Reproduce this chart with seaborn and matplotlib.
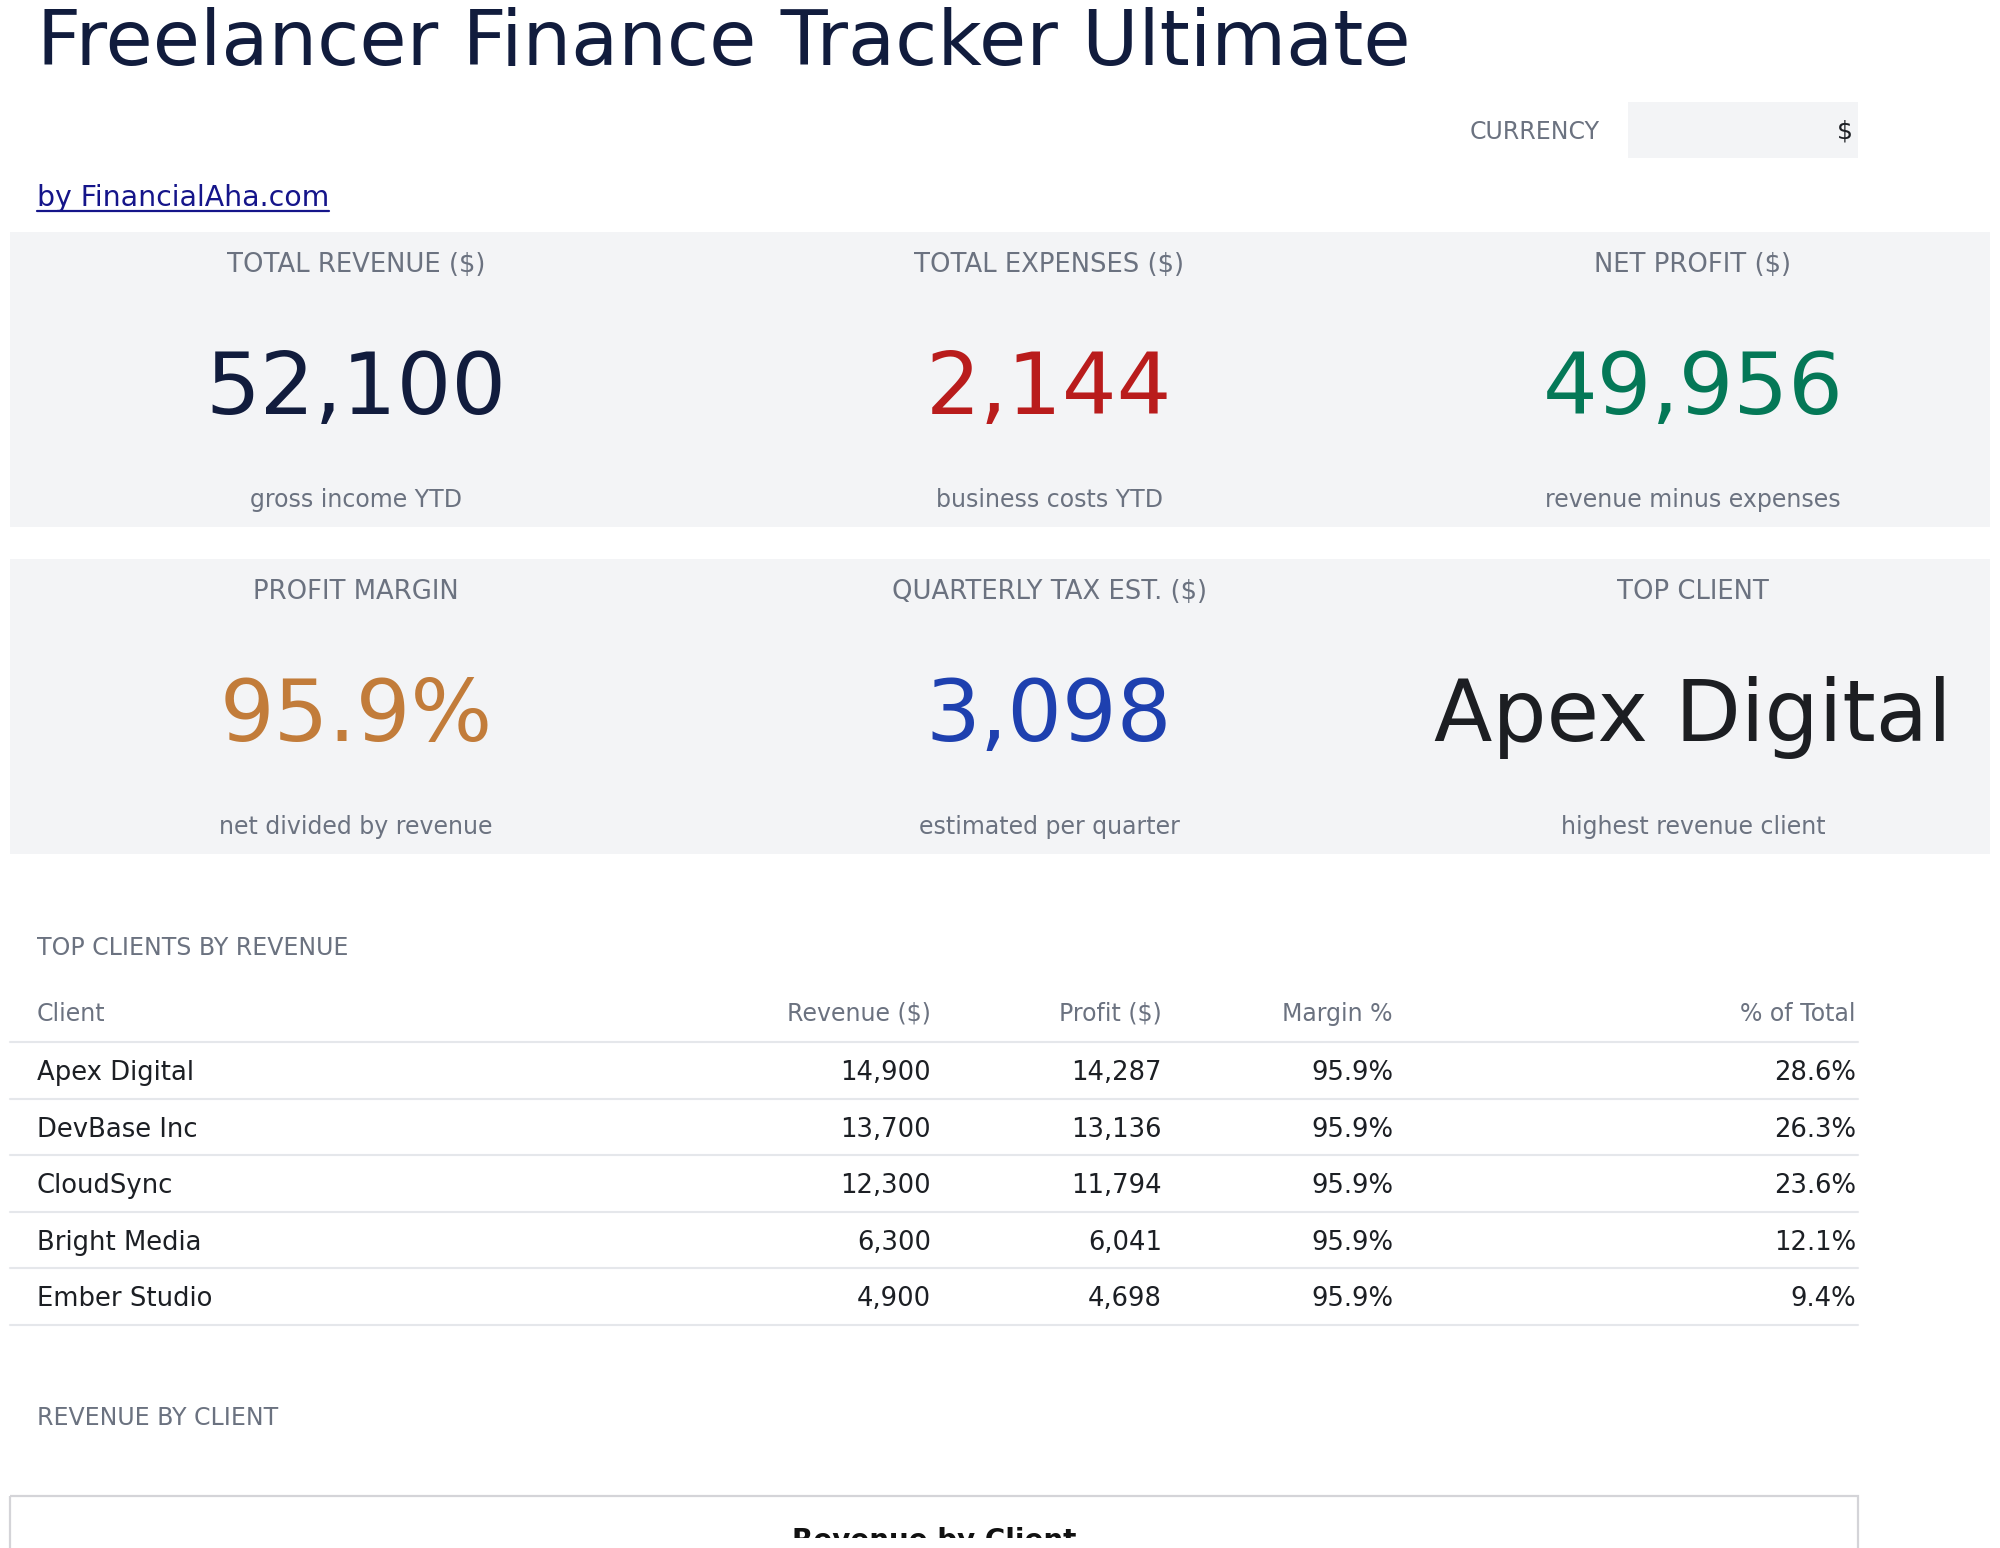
import matplotlib
matplotlib.use("Agg")
import matplotlib.pyplot as plt
from matplotlib.patches import Rectangle
from matplotlib.transforms import Bbox, TransformedBbox
import pandas as pd
import seaborn as sns

# dados do painel
titulo = "Freelancer Finance Tracker Ultimate"
moeda = "$"

kpi_titulos = ["TOTAL REVENUE ($)", "TOTAL EXPENSES ($)", "NET PROFIT ($)",
               "PROFIT MARGIN", "QUARTERLY TAX EST. ($)", "TOP CLIENT"]
kpi_valores = ["52,100", "2,144", "49,956", "95.9%", "3,098", "Apex Digital"]
kpi_legendas = ["gross income YTD", "business costs YTD", "revenue minus expenses",
                "net divided by revenue", "estimated per quarter", "highest revenue client"]
kpi_cores = ["#111c3d", "#b91c1c", "#047857", "#c27c3a", "#1e40af", "#1c1e22"]

clientes = ["Apex Digital", "DevBase Inc", "CloudSync", "Bright Media", "Ember Studio"]
receita = [14900, 13700, 12300, 6300, 4900]
lucro = [14287, 13136, 11794, 6041, 4698]
margem = [95.9, 95.9, 95.9, 95.9, 95.9]
participacao = [28.6, 26.3, 23.6, 12.1, 9.4]

cabecalho = ["Client", "Revenue ($)", "Profit ($)", "Margin %", "% of Total"]

df = pd.DataFrame({"cliente": clientes, "receita": receita, "lucro": lucro,
                   "margem": margem, "participacao": participacao})

sns.set_theme(style="white")
plt.rcParams["font.family"] = ["DejaVu Sans"]

cinza = "#6b7280"
texto = "#1c1f24"

W, H = 2000, 1548
fig = plt.figure(figsize=(W / 100, H / 100), dpi=100)
fig.patch.set_facecolor("white")

ax = fig.add_axes([0, 0, 1, 1])
ax.set_xlim(0, W)
ax.set_ylim(H, 0)
ax.axis("off")
ax.set_zorder(2)
ax.patch.set_alpha(0)

# cabeçalho
ax.text(37, 65, titulo, fontsize=55.3, color="#111c3d", va="baseline")
ax.text(1600, 139, "CURRENCY", fontsize=17, color=cinza, ha="right", va="baseline")
ax.add_patch(Rectangle((1628, 102), 230, 56, color="#f3f4f6", lw=0))
ax.text(1853, 139, moeda, fontsize=18, color=texto, ha="right", va="baseline")

link = ax.text(37, 206, "by FinancialAha.com", fontsize=20.4, color="#15158a", va="baseline")
fig.canvas.draw()
bb = link.get_window_extent(fig.canvas.get_renderer())
ax.plot([bb.x0, bb.x1], [211, 211], color="#15158a", lw=1.6)

# cartões KPI
centros = [356, 1049, 1693]
for linha in range(2):
    dy = linha * 327
    ax.add_patch(Rectangle((10, 232 + dy), 1980, 295, color="#f3f4f6", lw=0))
    for col in range(3):
        i = linha * 3 + col
        x = centros[col]
        ax.text(x, 272 + dy, kpi_titulos[i], fontsize=18.6, color=cinza,
                ha="center", va="baseline")
        tam = 61.5 if i == 5 else 62
        ax.text(x, 414 + dy, kpi_valores[i], fontsize=tam, color=kpi_cores[i],
                ha="center", va="baseline")
        ax.text(x, 507 + dy, kpi_legendas[i], fontsize=17, color=cinza,
                ha="center", va="baseline")

# tabela de clientes
ax.text(37, 955, "TOP CLIENTS BY REVENUE", fontsize=17, color=cinza, va="baseline")
col_x = [37, 931, 1162, 1393, 1856]
col_ha = ["left", "right", "right", "right", "right"]
for nome, x, ha in zip(cabecalho, col_x, col_ha):
    ax.text(x, 1021, nome, fontsize=17, color=cinza, ha=ha, va="baseline")

passo = 56.6
ax.plot([10, 1858], [1042, 1042], color="#e5e7eb", lw=1.5)
for k, row in df.iterrows():
    base = 1080 + k * passo
    valores = [row["cliente"], f"{row['receita']:,}", f"{row['lucro']:,}",
               f"{row['margem']:.1f}%", f"{row['participacao']:.1f}%"]
    for v, x, ha in zip(valores, col_x, col_ha):
        ax.text(x, base, v, fontsize=18.6, color=texto, ha=ha, va="baseline")
    y_lin = 1042 + (k + 1) * passo
    ax.plot([10, 1858], [y_lin, y_lin], color="#e5e7eb", lw=1.5)

# gráfico de receita por cliente (começa no rodapé)
ax.text(37, 1425, "REVENUE BY CLIENT", fontsize=17, color=cinza, va="baseline")
ax.add_patch(Rectangle((10, 1496), 1848, 500, facecolor="none",
                       edgecolor="#d4d4d8", lw=1.6))
t = ax.text(934, 1549, "Revenue by Client", fontsize=20, fontweight="bold",
            color="#111111", ha="center", va="baseline")
# na referência o título aparece cortado logo abaixo do topo das letras
t.set_clip_box(TransformedBbox(Bbox([[10, 1496], [1858, 1538]]), ax.transData))
t.set_clip_on(True)

# o corpo do gráfico fica abaixo da borda da figura
graf = fig.add_axes([60 / W, 1 - 2100 / H, 1760 / W, 480 / H])
graf.set_zorder(1)
sns.barplot(data=df, x="cliente", y="receita", color="#1e40af", ax=graf)
graf.set_xlabel("")
graf.set_ylabel("")
graf.tick_params(labelbottom=False, labelleft=False)
sns.despine(ax=graf)

fig.savefig("out.png", dpi=100)
